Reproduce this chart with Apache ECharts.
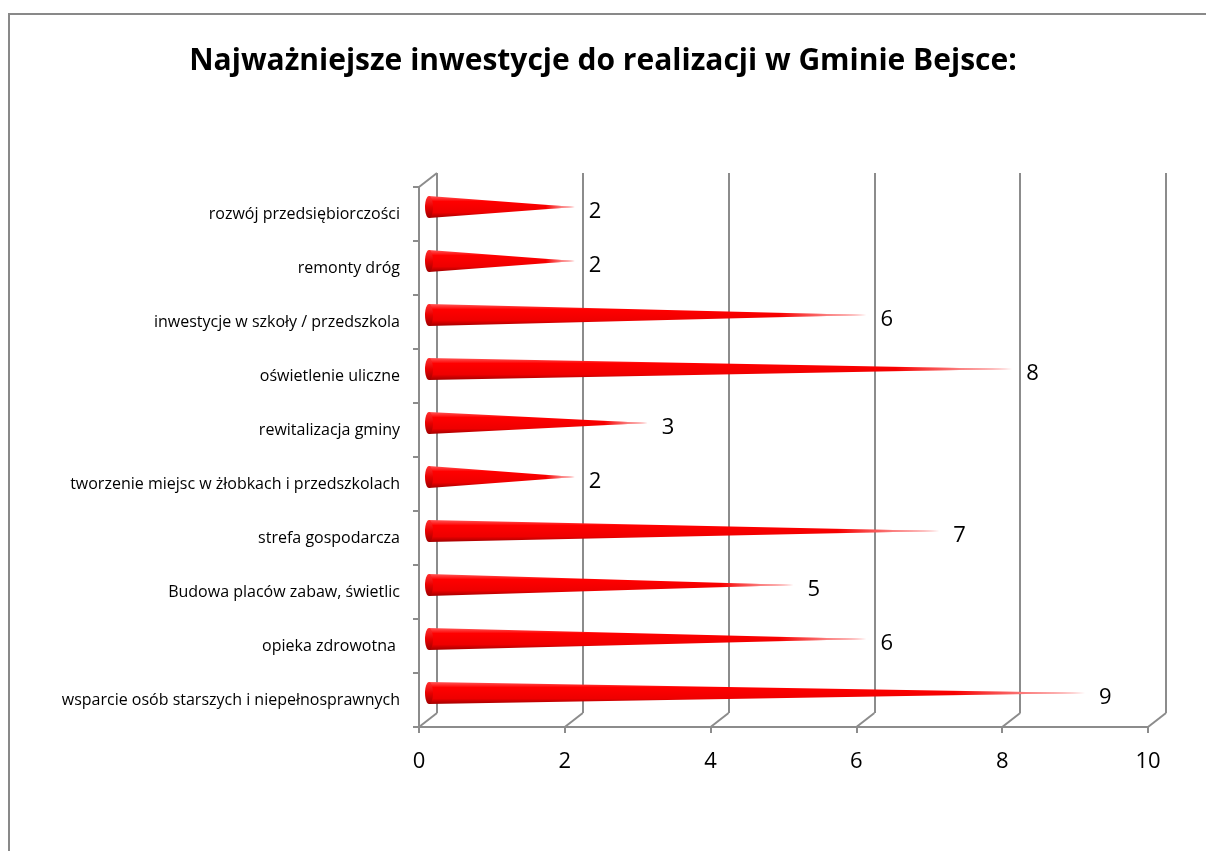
<!DOCTYPE html>
<html>
<head>
<meta charset="utf-8">
<script src="https://cdn.jsdelivr.net/npm/echarts@6/dist/echarts.min.js"></script>
<style>
  html, body { margin: 0; padding: 0; background: #fff; }
  #main { width: 1206px; height: 851px; }
</style>
</head>
<body>
<div id="main"></div>
<script>
// kategorie od góry do dołu
const categories = [
    'rozwój przedsiębiorczości',
    'remonty dróg',
    'inwestycje w szkoły / przedszkola',
    'oświetlenie uliczne',
    'rewitalizacja gminy',
    'tworzenie miejsc w żłobkach i przedszkolach',
    'strefa gospodarcza',
    'Budowa placów zabaw, świetlic',
    'opieka zdrowotna ',
    'wsparcie osób starszych i niepełnosprawnych'
];
const values = [2, 2, 6, 8, 3, 2, 7, 5, 6, 9];
const ticks = [0, 2, 4, 6, 8, 10];

const GRAY = '#8c8c8c';
const DX = 18, DY = -14;   // przesunięcie tylnej ściany (efekt 3D)
const FONT = 'Open Sans';

const chartDom = document.getElementById('main');
const myChart = echarts.init(chartDom);

const coneItem = (params, api) => {
    const idx = api.value(1);
    const base = api.coord([0, idx]);
    const tip = api.coord([api.value(0), idx]);
    const band = api.size([0, 1])[1];
    const h = band * 0.205;
    const bx = base[0] + DX / 2 + 1, by = base[1] + DY / 2;
    const tx = tip[0] + DX / 2 + 1;
    const pts = [[bx, by - h], [tx, by], [bx, by + h]];
    return {
        type: 'group',
        children: [
            {
                type: 'polygon',
                shape: { points: pts },
                style: {
                    fill: new echarts.graphic.LinearGradient(0, 0, 0, 1, [
                        { offset: 0, color: '#ff5a5a' },
                        { offset: 0.25, color: '#ff0000' },
                        { offset: 0.75, color: '#ee0000' },
                        { offset: 1, color: '#a00000' }
                    ])
                }
            },
            {
                type: 'polygon',
                shape: { points: pts },
                style: {
                    fill: new echarts.graphic.LinearGradient(0, 0, 1, 0, [
                        { offset: 0, color: 'rgba(255,255,255,0)' },
                        { offset: 0.8, color: 'rgba(255,255,255,0)' },
                        { offset: 1, color: 'rgba(255,255,255,0.9)' }
                    ])
                }
            },
            {
                type: 'ellipse',
                shape: { cx: bx, cy: by, rx: 4, ry: h },
                style: {
                    fill: new echarts.graphic.LinearGradient(0, 0, 0, 1, [
                        { offset: 0, color: '#ff3030' },
                        { offset: 0.5, color: '#e80000' },
                        { offset: 1, color: '#a00000' }
                    ])
                }
            },
            {
                type: 'text',
                x: tx + 14,
                y: by + 5,
                style: {
                    text: String(api.value(0)),
                    fontFamily: FONT,
                    fontSize: 22,
                    fill: '#000',
                    verticalAlign: 'middle'
                }
            }
        ]
    };
};

const frameItem = (params, api) => {
    const cs = params.coordSys;
    const x = api.coord([api.value(0), 0])[0];
    const yb = cs.y + cs.height;
    const lines = [{
        type: 'line',
        shape: { x1: x, y1: yb, x2: x + DX, y2: yb + DY },
        style: { stroke: GRAY, lineWidth: 2 }
    }];
    if (api.value(0) === 0) {
        lines.push({
            type: 'line',
            shape: { x1: x, y1: cs.y, x2: x + DX, y2: cs.y + DY },
            style: { stroke: GRAY, lineWidth: 2 }
        });
    }
    return { type: 'group', children: lines };
};

const option = {
    animation: false,
    title: {
        text: 'Najważniejsze inwestycje do realizacji w Gminie Bejsce:',
        left: 'center',
        top: 41,
        textStyle: { fontFamily: FONT, fontSize: 30, fontWeight: 'bold', color: '#000' }
    },
    graphic: [{
        type: 'rect',
        shape: { x: 9, y: 14, width: 1300, height: 900 },
        style: { fill: 'none', stroke: '#898989', lineWidth: 2 },
        silent: true
    }],
    grid: [
        { left: 419, right: 58, top: 187, bottom: 124 },
        { left: 437, right: 40, top: 173, bottom: 138 }
    ],
    xAxis: [
        {
            gridIndex: 0, type: 'value', min: 0, max: 10, interval: 2,
            axisLine: { show: true, lineStyle: { color: GRAY, width: 2 } },
            axisTick: { show: true, length: 6, lineStyle: { color: GRAY, width: 2 } },
            axisLabel: { fontFamily: FONT, fontSize: 22, color: '#000', margin: 24 },
            splitLine: { show: false }
        },
        {
            gridIndex: 1, type: 'value', min: 0, max: 10, interval: 2,
            axisLine: { show: false }, axisTick: { show: false }, axisLabel: { show: false },
            splitLine: { show: true, lineStyle: { color: GRAY, width: 2 } }
        }
    ],
    yAxis: [
        {
            gridIndex: 0, type: 'category', data: categories, inverse: true,
            axisLine: { show: true, lineStyle: { color: GRAY, width: 2 } },
            axisTick: { show: true, length: 6, lineStyle: { color: GRAY, width: 2 } },
            axisLabel: { fontFamily: FONT, fontSize: 16, color: '#000', margin: 19 }
        },
        {
            gridIndex: 1, type: 'category', data: categories, inverse: true, show: false
        }
    ],
    series: [
        {
            type: 'custom',
            xAxisIndex: 0, yAxisIndex: 0,
            renderItem: frameItem,
            data: ticks.map(t => [t, 0]),
            silent: true
        },
        {
            type: 'custom',
            xAxisIndex: 0, yAxisIndex: 0,
            renderItem: coneItem,
            data: values.map((v, i) => [v, i])
        }
    ]
};

myChart.setOption(option);
window.addEventListener('resize', myChart.resize);
</script>
</body>
</html>
